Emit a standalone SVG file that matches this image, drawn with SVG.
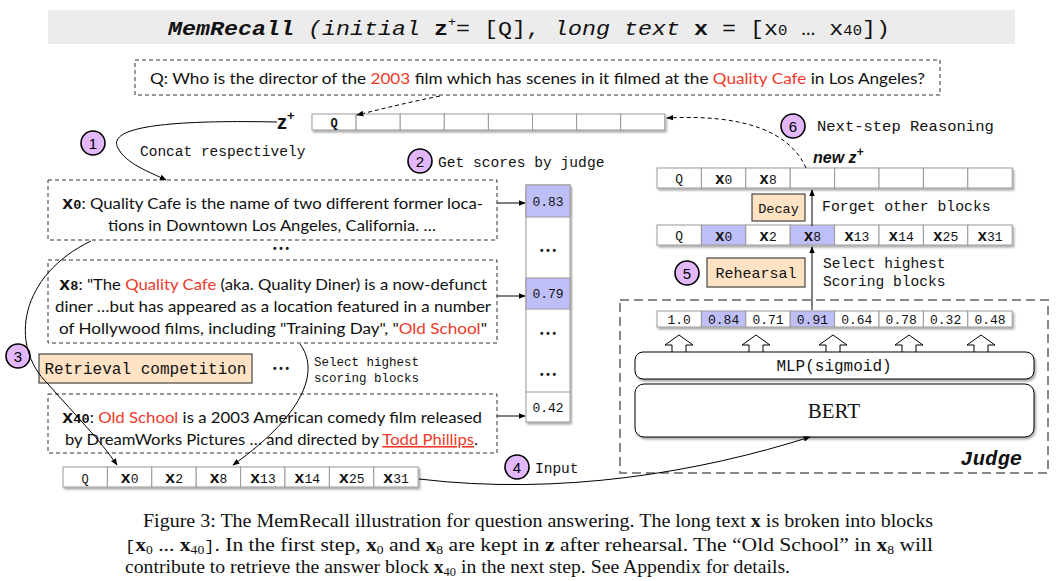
<svg xmlns="http://www.w3.org/2000/svg" width="1058" height="581" viewBox="0 0 1058 581">
<defs>
<filter id="sh" x="-5%" y="-30%" width="110%" height="180%"><feDropShadow dx="1.5" dy="2" stdDeviation="1.2" flood-color="#000" flood-opacity="0.35"/></filter>
<marker id="ah" viewBox="0 0 10 10" refX="9" refY="5" markerWidth="7" markerHeight="7" orient="auto"><path d="M0,1 L10,5 L0,9 z" fill="#000"/></marker>
</defs>
<style>
.cell{fill:#fff;stroke:#999;stroke-width:1}
.hl{fill:#bfbff8}
.dbox{fill:none;stroke:#333;stroke-width:1;stroke-dasharray:4 3}
.peach{fill:#ffe3c4;stroke:#444;stroke-width:1.2}
.circ{fill:#e3b8fb;stroke:#000;stroke-width:1.6}
.cn{font-family:"Liberation Sans",Arial,sans-serif;font-size:15px;text-anchor:middle}
.mono{font-family:"Liberation Mono","DejaVu Sans Mono",monospace;fill:#111}
.ct{font-family:"Liberation Mono","DejaVu Sans Mono",monospace;text-anchor:middle;fill:#111}
.body{font-family:Lato,"Open Sans",sans-serif;font-size:16px;fill:#111}
.red{fill:#f03a2a}
.conn{fill:none;stroke:#000;stroke-width:1}
.dots{font-family:"Liberation Sans",sans-serif;font-size:10px;font-weight:bold;text-anchor:middle;fill:#111}
.cap{font-family:"Liberation Serif","Times New Roman",serif;font-size:19px;fill:#111}
</style>

<g id="title">
<rect x="48" y="10" width="967" height="34" fill="#ececec"/>
<text x="529" y="35" text-anchor="middle" class="mono" font-size="21" textLength="722" lengthAdjust="spacingAndGlyphs"><tspan font-weight="bold" font-style="italic">MemRecall</tspan><tspan font-style="italic"> (initial </tspan><tspan font-weight="bold">z</tspan><tspan font-size="12" dy="-9">+</tspan><tspan dy="9">= [Q], </tspan><tspan font-style="italic">long text </tspan><tspan font-weight="bold">x</tspan><tspan> = [x</tspan><tspan font-size="14">0</tspan><tspan> … x</tspan><tspan font-size="14">40</tspan><tspan>])</tspan></text>
</g>

<g id="question">
<rect x="135" y="60" width="805" height="35" class="dbox"/>
<text x="150" y="84" class="body" font-size="16.5" textLength="775" lengthAdjust="spacingAndGlyphs">Q: Who is the director of the <tspan class="red">2003</tspan> film which has scenes in it filmed at the <tspan class="red">Quality Cafe</tspan> in Los Angeles?</text>
</g>

<g id="zplus">
<text x="277" y="129" font-family="Liberation Sans,Arial,sans-serif" font-weight="bold" font-size="20" fill="#111">z<tspan font-size="13" dy="-9">+</tspan></text>
<g filter="url(#sh)">
<rect x="312" y="114" width="44.1" height="16" class="cell"/>
<rect x="356.1" y="114" width="44.1" height="16" class="cell"/>
<rect x="400.2" y="114" width="44.1" height="16" class="cell"/>
<rect x="444.3" y="114" width="44.1" height="16" class="cell"/>
<rect x="488.4" y="114" width="44.1" height="16" class="cell"/>
<rect x="532.5" y="114" width="44.1" height="16" class="cell"/>
<rect x="576.6" y="114" width="44.1" height="16" class="cell"/>
<rect x="620.7" y="114" width="44.1" height="16" class="cell"/>
</g>
<text x="334" y="127" class="ct" font-size="12" font-weight="bold">Q</text>
</g>

<g id="step1">
<circle cx="93" cy="143" r="12" class="circ"/>
<text x="93" y="148.5" class="cn">1</text>
<text x="140" y="156" class="mono" font-size="14.5">Concat respectively</text>
</g>

<g id="step2">
<circle cx="420" cy="161" r="12" class="circ"/>
<text x="420" y="166.5" class="cn">2</text>
<text x="438" y="167" class="mono" font-size="14.6">Get scores by judge</text>
</g>

<g id="block-x0">
<rect x="48" y="180" width="449" height="60" class="dbox"/>
<text x="62" y="209" class="body" textLength="421" lengthAdjust="spacingAndGlyphs"><tspan class="mono" font-weight="bold" font-size="18">x</tspan><tspan class="mono" font-weight="bold" font-size="13">0</tspan>: Quality Cafe is the name of two different former loca-</text>
<text x="272" y="231" class="body" text-anchor="middle" textLength="328" lengthAdjust="spacingAndGlyphs">tions in Downtown Los Angeles, California. …</text>
</g>
<text x="281" y="252" class="dots">• • •</text>

<g id="block-x8">
<rect x="48" y="260" width="449" height="83" class="dbox"/>
<text x="59" y="290" class="body" textLength="428" lengthAdjust="spacingAndGlyphs"><tspan class="mono" font-weight="bold" font-size="18">x</tspan><tspan class="mono" font-weight="bold" font-size="13">8</tspan>: "The <tspan class="red">Quality Cafe</tspan> (aka. Quality Diner) is a now-defunct</text>
<text x="55" y="312" class="body" textLength="436" lengthAdjust="spacingAndGlyphs">diner …but has appeared as a location featured in a number</text>
<text x="59" y="334" class="body" textLength="428" lengthAdjust="spacingAndGlyphs">of Hollywood films, including "Training Day", "<tspan class="red">Old School</tspan>"</text>
</g>

<g id="step3">
<circle cx="18" cy="356" r="12" class="circ"/>
<text x="18" y="361.5" class="cn">3</text>
<rect x="39" y="354" width="213" height="29" class="peach"/>
<text x="145.5" y="374" class="ct" font-size="16" textLength="202" lengthAdjust="spacingAndGlyphs">Retrieval competition</text>
</g>
<text x="281" y="372" class="dots">• • •</text>
<text x="314" y="366" class="mono" font-size="12.5">Select highest</text>
<text x="314" y="382" class="mono" font-size="12.5">scoring blocks</text>

<g id="block-x40">
<rect x="48" y="394" width="449" height="59" class="dbox"/>
<text x="62" y="423" class="body" textLength="420" lengthAdjust="spacingAndGlyphs"><tspan class="mono" font-weight="bold" font-size="18">x</tspan><tspan class="mono" font-weight="bold" font-size="13">40</tspan>: <tspan class="red">Old School</tspan> is a 2003 American comedy film released</text>
<text x="65" y="445" class="body" textLength="413" lengthAdjust="spacingAndGlyphs">by DreamWorks Pictures … and directed by <tspan class="red" text-decoration="underline">Todd Phillips</tspan>.</text>
</g>

<g id="scores-column">
<g filter="url(#sh)">
<rect x="526" y="185" width="44" height="237" class="cell"/>
<rect x="526" y="185" width="44" height="32" class="cell hl"/>
<rect x="526" y="278" width="44" height="31" class="cell hl"/>
<line x1="526" y1="392" x2="570" y2="392" stroke="#999"/>
</g>
<text x="548" y="206" class="ct" font-size="13">0.83</text>
<text x="548" y="254" class="dots">• • •</text>
<text x="548" y="298" class="ct" font-size="13">0.79</text>
<text x="548" y="337" class="dots">• • •</text>
<text x="548" y="378" class="dots">• • •</text>
<text x="548" y="412" class="ct" font-size="13">0.42</text>
</g>

<g id="input-row">
<g filter="url(#sh)">
<rect x="63" y="467" width="44.4" height="20" class="cell"/>
<rect x="107.4" y="467" width="44.4" height="20" class="cell"/>
<rect x="151.8" y="467" width="44.4" height="20" class="cell"/>
<rect x="196.2" y="467" width="44.4" height="20" class="cell"/>
<rect x="240.6" y="467" width="44.4" height="20" class="cell"/>
<rect x="285" y="467" width="44.4" height="20" class="cell"/>
<rect x="329.4" y="467" width="44.4" height="20" class="cell"/>
<rect x="373.8" y="467" width="44.4" height="20" class="cell"/>
</g>
<text x="85" y="483" class="ct" font-size="12">Q</text>
<text x="129.6" y="483" class="ct"><tspan font-weight="bold" font-size="17">x</tspan><tspan font-size="13">0</tspan></text>
<text x="174" y="483" class="ct"><tspan font-weight="bold" font-size="17">x</tspan><tspan font-size="13">2</tspan></text>
<text x="218.4" y="483" class="ct"><tspan font-weight="bold" font-size="17">x</tspan><tspan font-size="13">8</tspan></text>
<text x="262.8" y="483" class="ct"><tspan font-weight="bold" font-size="17">x</tspan><tspan font-size="13">13</tspan></text>
<text x="307.2" y="483" class="ct"><tspan font-weight="bold" font-size="17">x</tspan><tspan font-size="13">14</tspan></text>
<text x="351.6" y="483" class="ct"><tspan font-weight="bold" font-size="17">x</tspan><tspan font-size="13">25</tspan></text>
<text x="396" y="483" class="ct"><tspan font-weight="bold" font-size="17">x</tspan><tspan font-size="13">31</tspan></text>
</g>

<g id="step4">
<circle cx="517" cy="467" r="12" class="circ"/>
<text x="517" y="472.5" class="cn">4</text>
<text x="535" y="473" class="mono" font-size="14.5">Input</text>
</g>

<g id="step6">
<circle cx="793" cy="126" r="12" class="circ"/>
<text x="793" y="131.5" class="cn">6</text>
<text x="817" y="131" class="mono" font-size="15.5">Next-step Reasoning</text>
<text x="813" y="163" font-family="Liberation Sans,Arial,sans-serif" font-weight="bold" font-style="italic" font-size="16" fill="#111">new z<tspan font-size="12" dy="-7">+</tspan></text>
</g>

<g id="new-zplus-row">
<g filter="url(#sh)">
<rect x="657" y="168" width="44.4" height="20" class="cell"/>
<rect x="701.4" y="168" width="44.4" height="20" class="cell"/>
<rect x="745.8" y="168" width="44.4" height="20" class="cell"/>
<rect x="790.2" y="168" width="44.4" height="20" class="cell"/>
<rect x="834.6" y="168" width="44.4" height="20" class="cell"/>
<rect x="879" y="168" width="44.4" height="20" class="cell"/>
<rect x="923.4" y="168" width="44.4" height="20" class="cell"/>
<rect x="967.8" y="168" width="44.4" height="20" class="cell"/>
</g>
<text x="679.2" y="183" class="ct" font-size="13">Q</text>
<text x="723.6" y="184" class="ct"><tspan font-weight="bold" font-size="16">x</tspan><tspan font-size="13">0</tspan></text>
<text x="768" y="184" class="ct"><tspan font-weight="bold" font-size="16">x</tspan><tspan font-size="13">8</tspan></text>
</g>

<g id="decay">
<rect x="752" y="194" width="53" height="27" class="peach"/>
<text x="778.5" y="213" class="ct" font-size="13.5">Decay</text>
<text x="822" y="211" class="mono" font-size="14.8">Forget other blocks</text>
</g>

<g id="selected-row">
<g filter="url(#sh)">
<rect x="657" y="225" width="44.4" height="20" class="cell"/>
<rect x="701.4" y="225" width="44.4" height="20" class="cell hl"/>
<rect x="745.8" y="225" width="44.4" height="20" class="cell"/>
<rect x="790.2" y="225" width="44.4" height="20" class="cell hl"/>
<rect x="834.6" y="225" width="44.4" height="20" class="cell"/>
<rect x="879" y="225" width="44.4" height="20" class="cell"/>
<rect x="923.4" y="225" width="44.4" height="20" class="cell"/>
<rect x="967.8" y="225" width="44.4" height="20" class="cell"/>
</g>
<text x="679.2" y="240" class="ct" font-size="13">Q</text>
<text x="723.6" y="241" class="ct"><tspan font-weight="bold" font-size="16">x</tspan><tspan font-size="13">0</tspan></text>
<text x="768" y="241" class="ct"><tspan font-weight="bold" font-size="16">x</tspan><tspan font-size="13">2</tspan></text>
<text x="812.4" y="241" class="ct"><tspan font-weight="bold" font-size="16">x</tspan><tspan font-size="13">8</tspan></text>
<text x="856.8" y="241" class="ct"><tspan font-weight="bold" font-size="16">x</tspan><tspan font-size="13">13</tspan></text>
<text x="901.2" y="241" class="ct"><tspan font-weight="bold" font-size="16">x</tspan><tspan font-size="13">14</tspan></text>
<text x="945.6" y="241" class="ct"><tspan font-weight="bold" font-size="16">x</tspan><tspan font-size="13">25</tspan></text>
<text x="990" y="241" class="ct"><tspan font-weight="bold" font-size="16">x</tspan><tspan font-size="13">31</tspan></text>
</g>

<g id="step5">
<circle cx="687" cy="273" r="12" class="circ"/>
<text x="687" y="278.5" class="cn">5</text>
<rect x="707" y="258" width="98" height="29" class="peach"/>
<text x="756" y="278" class="ct" font-size="15">Rehearsal</text>
<text x="823" y="268" class="mono" font-size="14.6">Select highest</text>
<text x="823" y="286" class="mono" font-size="14.6">Scoring blocks</text>
</g>

<g id="judge">
<rect x="620" y="300" width="428" height="173" fill="none" stroke="#888" stroke-width="2" stroke-dasharray="9 5"/>
<g filter="url(#sh)">
<rect x="657" y="311" width="44.4" height="16" class="cell"/>
<rect x="701.4" y="311" width="44.4" height="16" class="cell hl"/>
<rect x="745.8" y="311" width="44.4" height="16" class="cell"/>
<rect x="790.2" y="311" width="44.4" height="16" class="cell hl"/>
<rect x="834.6" y="311" width="44.4" height="16" class="cell"/>
<rect x="879" y="311" width="44.4" height="16" class="cell"/>
<rect x="923.4" y="311" width="44.4" height="16" class="cell"/>
<rect x="967.8" y="311" width="44.4" height="16" class="cell"/>
</g>
<text x="679.2" y="324" class="ct" font-size="13">1.0</text>
<text x="723.6" y="324" class="ct" font-size="13">0.84</text>
<text x="768" y="324" class="ct" font-size="13">0.71</text>
<text x="812.4" y="324" class="ct" font-size="13">0.91</text>
<text x="856.8" y="324" class="ct" font-size="13">0.64</text>
<text x="901.2" y="324" class="ct" font-size="13">0.78</text>
<text x="945.6" y="324" class="ct" font-size="13">0.32</text>
<text x="990" y="324" class="ct" font-size="13">0.48</text>
<g fill="#fff" stroke="#000" stroke-width="1">
<polygon points="679,335 693,345 686,345 686,353 672,353 672,345 665,345"/>
<polygon points="756,335 770,345 763,345 763,353 749,353 749,345 742,345"/>
<polygon points="833,335 847,345 840,345 840,353 826,353 826,345 819,345"/>
<polygon points="909,335 923,345 916,345 916,353 902,353 902,345 895,345"/>
<polygon points="981,335 995,345 988,345 988,353 974,353 974,345 967,345"/>
</g>
<rect x="635" y="352" width="399" height="27" rx="8" fill="#fff" stroke="#000" stroke-width="1" filter="url(#sh)"/>
<text x="834" y="371" class="ct" font-size="16">MLP(sigmoid)</text>
<rect x="635" y="384" width="399" height="53" rx="9" fill="#fff" stroke="#000" stroke-width="1" filter="url(#sh)"/>
<text x="834" y="418" text-anchor="middle" font-family="Liberation Serif,Times New Roman,serif" font-size="21" fill="#111">BERT</text>
<text x="1022" y="465" text-anchor="end" class="mono" font-weight="bold" font-style="italic" font-size="20.5">Judge</text>
</g>

<g id="connectors">
<path d="M 277 122 C 180 120, 105 125, 118 148 C 126 164, 150 172, 166 180" class="conn" marker-end="url(#ah)"/>
<path d="M 440 96 C 410 102, 385 108, 357 115" class="conn" stroke-dasharray="4 3" marker-end="url(#ah)"/>
<path d="M 806 168 C 790 132, 745 114, 667 118" class="conn" stroke-dasharray="4 3" marker-end="url(#ah)"/>
<path d="M 497 203 L 525 203" class="conn" marker-end="url(#ah)"/>
<path d="M 497 296 L 525 296" class="conn" marker-end="url(#ah)"/>
<path d="M 497 416 L 525 416" class="conn" marker-end="url(#ah)"/>
<path d="M 91 241 C 20 275, 8 345, 48 384 C 78 418, 100 440, 117 465" class="conn" marker-end="url(#ah)"/>
<path d="M 300 344 C 318 368, 310 410, 233 465" class="conn" marker-end="url(#ah)"/>
<path d="M 419 479 C 560 496, 700 472, 810 437" class="conn" marker-end="url(#ah)"/>
<path d="M 812 310 L 812 247" class="conn" marker-end="url(#ah)"/>
<path d="M 812 226 L 812 190" class="conn" marker-end="url(#ah)"/>
</g>

<g id="caption">
<text x="143" y="527" class="cap" textLength="790" lengthAdjust="spacingAndGlyphs">Figure 3: The MemRecall illustration for question answering. The long text <tspan font-weight="bold">x</tspan> is broken into blocks</text>
<text x="125" y="551" class="cap" textLength="808" lengthAdjust="spacingAndGlyphs"><tspan class="mono" font-size="15">[</tspan><tspan font-weight="bold">x</tspan><tspan font-size="12" dy="3">0</tspan><tspan dy="-3"> ... </tspan><tspan font-weight="bold">x</tspan><tspan font-size="12" dy="3">40</tspan><tspan class="mono" font-size="15" dy="-3">]</tspan>. In the first step, <tspan font-weight="bold">x</tspan><tspan font-size="12" dy="3">0</tspan><tspan dy="-3"> and </tspan><tspan font-weight="bold">x</tspan><tspan font-size="12" dy="3">8</tspan><tspan dy="-3"> are kept in </tspan><tspan font-weight="bold">z</tspan> after rehearsal. The “Old School” in <tspan font-weight="bold">x</tspan><tspan font-size="12" dy="3">8</tspan><tspan dy="-3"> will</tspan></text>
<text x="125" y="573" class="cap" textLength="665" lengthAdjust="spacingAndGlyphs">contribute to retrieve the answer block <tspan font-weight="bold">x</tspan><tspan font-size="12" dy="3">40</tspan><tspan dy="-3"> in the next step. See Appendix for details.</tspan></text>
</g>
</svg>
